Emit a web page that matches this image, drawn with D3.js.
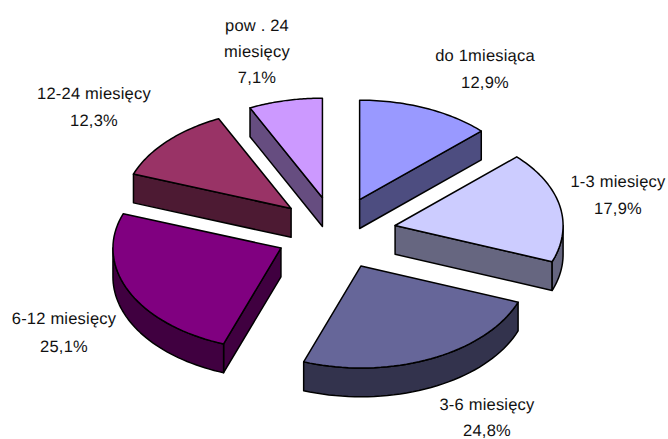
<!DOCTYPE html>
<html>
<head>
<meta charset="utf-8">
<script src="https://cdn.jsdelivr.net/npm/d3@7"></script>
<style>
  html, body { margin: 0; padding: 0; background: #fff; }
  svg { display: block; }
  text { font-family: "Liberation Sans", Arial, sans-serif; font-size: 16.5px; letter-spacing: 0.2px; fill: #111; text-anchor: middle; text-rendering: geometricPrecision; }
</style>
</head>
<body>
<svg id="chart" width="668" height="439"></svg>
<script>
const categories = ["do 1miesiąca", "1-3 miesięcy", "3-6 miesięcy", "6-12 miesięcy", "12-24 miesięcy", "pow . 24|miesięcy"];
const values = [12.9, 17.9, 24.8, 25.1, 12.3, 7.1];
const topColors = ["#9999ff", "#ccccff", "#666699", "#800080", "#993366", "#cc99ff"];
const sideColors = ["#4d4d80", "#666680", "#33334d", "#400040", "#4d1a33", "#664d80"];

// where the labels sit, first baseline of each block
const labelX = [485, 618, 487, 64, 94, 257];
const labelY = [61, 187, 410, 324, 99, 31];
const labelGap = [27, 26.5, 25.5, 27.5, 27, 26];

const width = 668, height = 439;
const centerX = 335.8, centerY = 232.6;
const depth = 28.8, explode = 0.36;

const x = d3.scaleLinear().domain([-1, 0, 1]).range([centerX - 168, centerX, centerX + 168]);
const y = d3.scaleLinear().domain([-1, 0, 1]).range([centerY - 99.5, centerY, centerY + 102]);

const svg = d3.select("#chart");
const pct = d3.formatLocale({ decimal: ",", thousands: " ", grouping: [3], currency: ["", ""] }).format(".1f");

const pie = d3.pie().sort(null).value(d => d);
const slices = pie(values);
const line = d3.line();

// unit vector for a pie angle, 0 = up, clockwise
const sx = a => Math.sin(a);
const sy = a => -Math.cos(a);

function arcPoints(a0, a1) {
  const pts = d3.range(0, 41).map(i => a0 + (a1 - a0) * i / 40);
  return pts;
}

slices.forEach((d, i) => {
  const mid = (d.startAngle + d.endAngle) / 2;
  const ox = explode * sx(mid), oy = explode * sy(mid);
  const px = (a, r) => x(ox) + (x(r * sx(a)) - x(0));
  const py = (a, r) => y(oy) + (y(r * sy(a)) - y(0));

  const g = svg.append("g").attr("class", "slice");

  const drawSide = pts => g.append("path")
    .attr("d", line(pts) + "Z")
    .attr("fill", sideColors[i])
    .attr("stroke", "#000")
    .attr("stroke-width", 1.5)
    .attr("stroke-linejoin", "round");

  // flat walls along the cut edges, only the ones facing us
  if (d.startAngle > Math.PI) {
    drawSide([[px(0, 0), py(0, 0)], [px(d.startAngle, 1), py(d.startAngle, 1)],
              [px(d.startAngle, 1), py(d.startAngle, 1) + depth], [px(0, 0), py(0, 0) + depth]]);
  }
  if (d.endAngle < Math.PI) {
    drawSide([[px(0, 0), py(0, 0)], [px(d.endAngle, 1), py(d.endAngle, 1)],
              [px(d.endAngle, 1), py(d.endAngle, 1) + depth], [px(0, 0), py(0, 0) + depth]]);
  }

  // curved wall, the part of the rim below the widest point
  const a0 = Math.max(d.startAngle, Math.PI / 2), a1 = Math.min(d.endAngle, Math.PI * 1.5);
  if (a0 < a1) {
    const rim = arcPoints(a0, a1).map(a => [px(a, 1), py(a, 1)]);
    const low = rim.map(p => [p[0], p[1] + depth]).reverse();
    drawSide(rim.concat(low));
  }

  // top face
  const top = [[px(0, 0), py(0, 0)]].concat(arcPoints(d.startAngle, d.endAngle).map(a => [px(a, 1), py(a, 1)]));
  g.append("path")
    .attr("d", line(top) + "Z")
    .attr("fill", topColors[i])
    .attr("stroke", "#000")
    .attr("stroke-width", 1.5)
    .attr("stroke-linejoin", "round");
});

categories.forEach((c, i) => {
  const lines = c.split("|").concat(pct(values[i]) + "%");
  const t = svg.append("text").attr("x", labelX[i]).attr("y", labelY[i]);
  lines.forEach((l, j) => {
    t.append("tspan").attr("x", labelX[i]).attr("dy", j ? labelGap[i] : 0).text(l);
  });
});
</script>
</body>
</html>
